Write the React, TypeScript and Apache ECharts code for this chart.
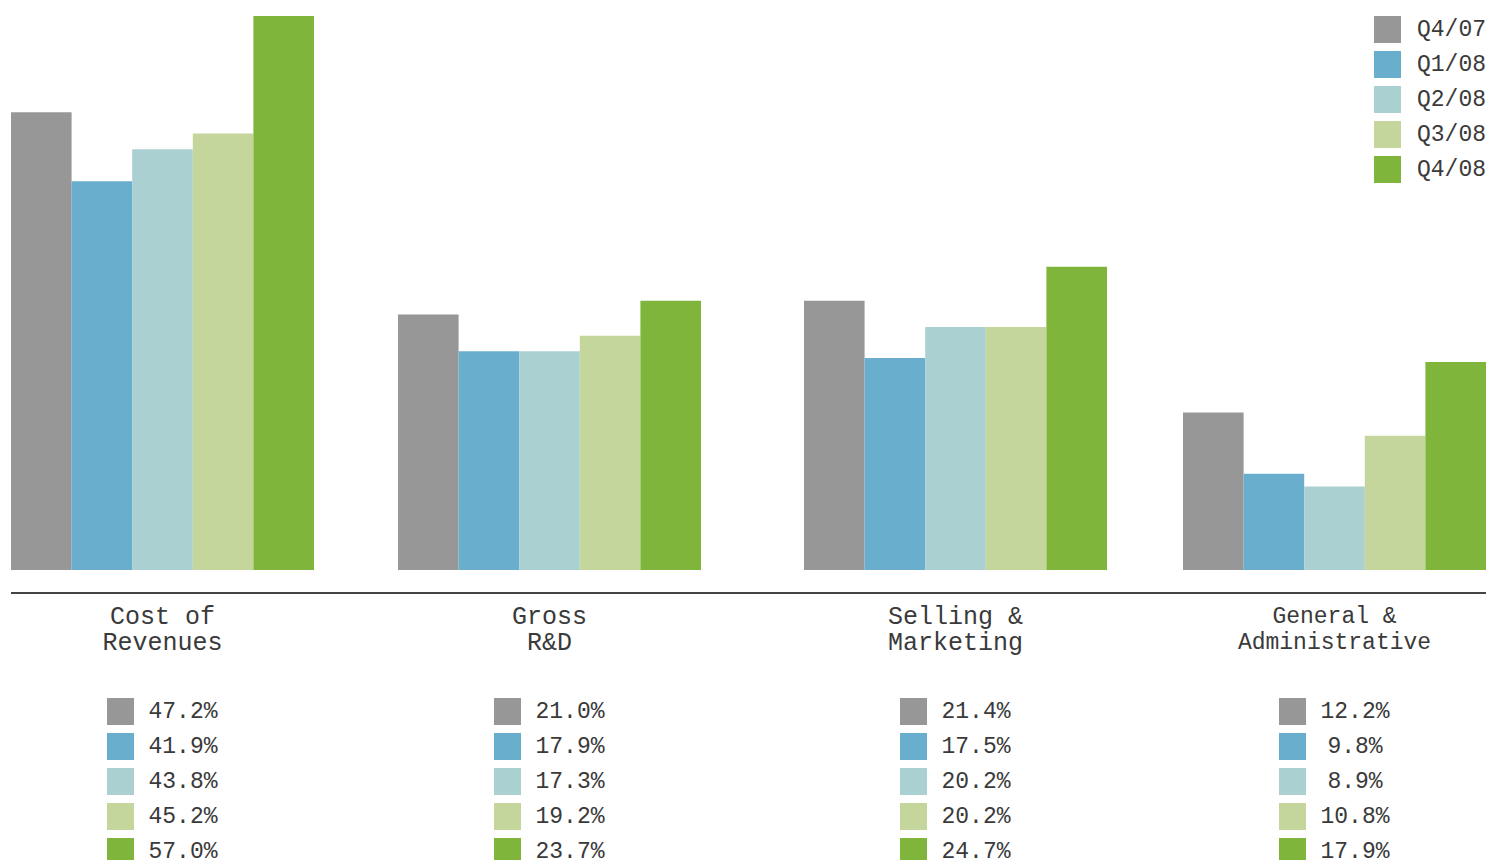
import React, { useEffect, useRef } from "react";
import * as echarts from "echarts";

const quarters = ["Q4/07", "Q1/08", "Q2/08", "Q3/08", "Q4/08"];
const colors = ["#979797", "#6AAECE", "#ABD0D2", "#C4D69C", "#80B53C"];
const categories = [
  "Cost of\nRevenues",
  "Gross\nR&D",
  "Selling &\nMarketing",
  "General &\nAdministrative",
];
// Percentages printed under each group
const costOfRevenues = ["47.2%", "41.9%", "43.8%", "45.2%", "57.0%"];
const grossRD = ["21.0%", "17.9%", "17.3%", "19.2%", "23.7%"];
const sellingMarketing = ["21.4%", "17.5%", "20.2%", "20.2%", "24.7%"];
const generalAdmin = ["12.2%", "9.8%", "8.9%", "10.8%", "17.9%"];
// Bar heights as drawn in the picture (same scale for every group)
const costOfRevenuesBars = [47.1, 40.0, 43.3, 44.9, 57.0];
const grossRDBars = [26.3, 22.5, 22.5, 24.1, 27.7];
const sellingMarketingBars = [27.7, 21.8, 25.0, 25.0, 31.2];
const generalAdminBars = [16.2, 9.9, 8.6, 13.8, 21.4];

const labels = [costOfRevenues, grossRD, sellingMarketing, generalAdmin];
const bars = [costOfRevenuesBars, grossRDBars, sellingMarketingBars, generalAdminBars];

const FONT = "'Liberation Mono', 'Courier New', monospace";
const TEXT_COLOR = "#3a3a3a";
const gridLefts = [11, 398, 804, 1183];
const labelFontSizes = [25, 25, 25, 23];
const GRID_W = 303;

export default function App() {
  const ref = useRef<HTMLDivElement>(null);
  useEffect(() => {
    document.body.style.margin = "0";
    if (!ref.current) return;
    const chart = echarts.init(ref.current, null, { renderer: "svg" });

    const grids = gridLefts.map((l) => ({ left: l, width: GRID_W, top: 16, bottom: 290 }));
    const xAxes = categories.map((c, i) => ({
      type: "category",
      gridIndex: i,
      data: [c],
      axisLine: { show: false },
      axisTick: { show: false },
      axisLabel: {
        interval: 0,
        margin: 34,
        fontFamily: FONT,
        fontSize: labelFontSizes[i],
        lineHeight: 26,
        color: TEXT_COLOR,
      },
    }));
    const yAxes = categories.map((_, i) => ({
      type: "value",
      gridIndex: i,
      min: 0,
      max: 57,
      show: false,
      splitLine: { show: false },
    }));
    const series: any[] = [];
    quarters.forEach((q, qi) => {
      bars.forEach((b, gi) => {
        series.push({
          type: "bar",
          name: q,
          xAxisIndex: gi,
          yAxisIndex: gi,
          data: [b[qi]],
          barGap: "0%",
          barCategoryGap: "0%",
          itemStyle: { color: colors[qi] },
          emphasis: { disabled: true },
        });
      });
    });

    const graphics: any[] = [
      {
        type: "line",
        shape: { x1: 11, y1: 593, x2: 1486, y2: 593 },
        style: { stroke: "#444", lineWidth: 2 },
      },
    ];
    gridLefts.forEach((l, gi) => {
      const center = l + GRID_W / 2;
      labels[gi].forEach((t, qi) => {
        const top = 698 + qi * 35;
        graphics.push({
          type: "rect",
          shape: { x: center - 55.5, y: top, width: 27, height: 27 },
          style: { fill: colors[qi] },
        });
        graphics.push({
          type: "text",
          x: center + 20.5,
          y: top + 14,
          style: {
            text: t,
            fill: TEXT_COLOR,
            font: `23px ${FONT}`,
            align: "center",
            verticalAlign: "middle",
          },
        });
      });
    });

    chart.setOption({
      animation: false,
      backgroundColor: "#fff",
      grid: grids,
      xAxis: xAxes,
      yAxis: yAxes,
      legend: {
        data: quarters,
        orient: "vertical",
        left: 1374,
        top: 16,
        padding: 0,
        itemWidth: 27,
        itemHeight: 27,
        itemGap: 8,
        icon: "rect",
        selectedMode: false,
        textStyle: {
          fontFamily: FONT,
          fontSize: 23,
          color: TEXT_COLOR,
          padding: [0, 0, 0, 11],
        },
      },
      series,
      graphic: graphics,
    });
    return () => chart.dispose();
  }, []);
  return <div ref={ref} style={{ width: 1487, height: 860 }} />;
}
